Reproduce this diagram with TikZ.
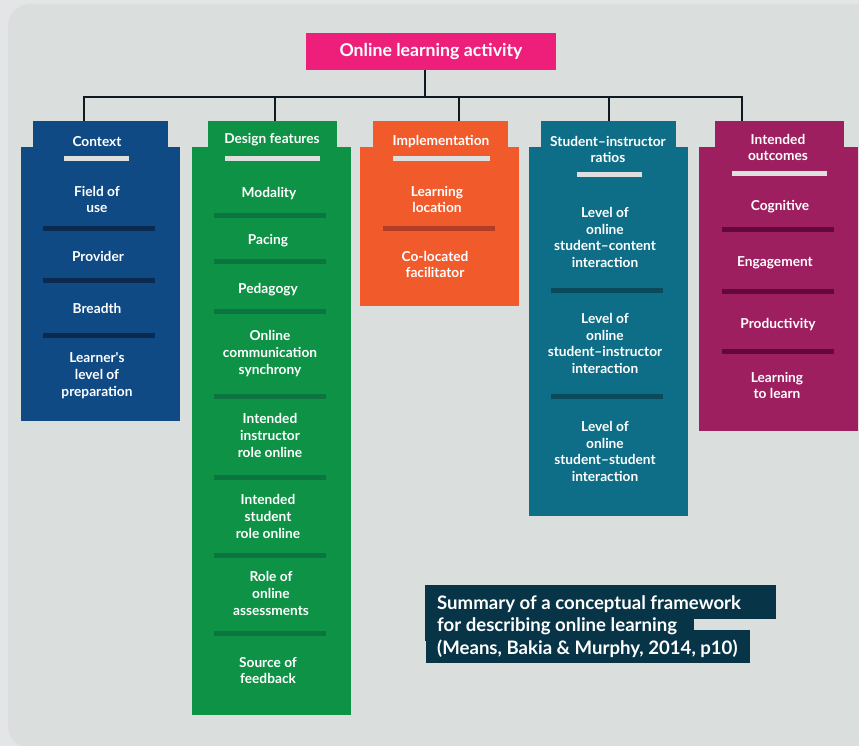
\documentclass[tikz,border=0pt]{standalone}
\usepackage{fontspec}
\setmainfont{Lato}
\definecolor{outerbg}{HTML}{E4E5E6}
\definecolor{innerbg}{HTML}{DADEDD}
\definecolor{cpink}{HTML}{EE1F7B}
\definecolor{cblue}{HTML}{0F4A84}
\definecolor{dblue}{HTML}{0C2A4F}
\definecolor{cgreen}{HTML}{0E9245}
\definecolor{dgreen}{HTML}{0D7440}
\definecolor{corange}{HTML}{F15A2B}
\definecolor{dorange}{HTML}{B23C25}
\definecolor{cteal}{HTML}{0E6E87}
\definecolor{dteal}{HTML}{0A4A5A}
\definecolor{cpurple}{HTML}{9E1F60}
\definecolor{dpurple}{HTML}{62083A}
\definecolor{ccap}{HTML}{073547}
\definecolor{cline}{HTML}{0E1A1F}
\definecolor{cbar}{HTML}{DDE0DF}
\begin{document}
\begin{tikzpicture}[x=1pt,y=-1pt,
  tab/.style={anchor=north west, inner sep=0pt, minimum height=26pt},
  colbody/.style={anchor=north west, inner sep=0pt},
  item/.style={text=white, font=\bfseries\fontsize{13.7}{16.8}\selectfont, align=center, inner sep=0pt, yshift=-1.5pt},
  conn/.style={draw=cline, line width=2.6pt},
  capline/.style={anchor=west, text=white, font=\bfseries\fontsize{18.6}{22}\selectfont, inner sep=0pt, yshift=-1pt}]
\useasboundingbox (0,0) rectangle (859,746);
\fill[outerbg] (0,0) rectangle (859,746);
\fill[innerbg, rounded corners=22pt] (8,4) rectangle (880,748);

% title
\node[fill=cpink, text=white, font=\bfseries\fontsize{17.7}{20}\selectfont, minimum width=250pt, minimum height=37pt, inner sep=0pt] (title) at (431,51.5) {\raisebox{-2pt}{Online learning activity}};

% ---- Context column
\node[colbody, fill=cblue, minimum width=159pt, minimum height=274pt] (ctxbody) at (21,147) {};
\node[tab, fill=cblue, minimum width=135pt] (ctxtab) at (33,121) {};
\node[item] (ctxh) at (97,140) {Context};
\fill[cbar] (64,156) rectangle (129,161);
\node[item] (c1) at (97,198) {Field of\\use};
\fill[dblue] (43,226) rectangle (155,231);
\node[item] (c2) at (98,255) {Provider};
\fill[dblue] (43,278) rectangle (155,283);
\node[item] (c3) at (97,307) {Breadth};
\fill[dblue] (43,333) rectangle (155,338);
\node[item] (c4) at (97,374) {Learner\textquotesingle s\\level of\\preparation};

% ---- Design features column
\node[colbody, fill=cgreen, minimum width=159pt, minimum height=568pt] (desbody) at (192,147) {};
\node[tab, fill=cgreen, minimum width=129pt] (destab) at (208,121) {};
\node[item] (desh) at (272,138) {Design features};
\fill[cbar] (225,156) rectangle (320,161);
\node[item] (d1) at (269,192) {Modality};
\fill[dgreen] (214,213) rectangle (326,218);
\node[item] (d2) at (268,239) {Pacing};
\fill[dgreen] (214,259) rectangle (326,264);
\node[item] (d3) at (268,288) {Pedagogy};
\fill[dgreen] (214,309) rectangle (326,314);
\node[item] (d4) at (270,352) {Online\\communication\\synchrony};
\fill[dgreen] (214,394) rectangle (326,399);
\node[item] (d5) at (270,434) {Intended\\instructor\\role online};
\fill[dgreen] (214,475) rectangle (326,480);
\node[item] (d6) at (268,515) {Intended\\student\\role online};
\fill[dgreen] (214,553) rectangle (326,558);
\node[item] (d7) at (271,592) {Role of\\online\\assessments};
\fill[dgreen] (214,631) rectangle (326,636);
\node[item] (d8) at (268,669) {Source of\\feedback};

% ---- Implementation column
\node[colbody, fill=corange, minimum width=159pt, minimum height=159pt] (impbody) at (360,147) {};
\node[tab, fill=corange, minimum width=135pt] (imptab) at (373,121) {};
\node[item] (imph) at (441,140) {Implementation};
\fill[cbar] (393,156) rectangle (490,161);
\node[item] (i1) at (437,198) {Learning\\location};
\fill[dorange] (383,226) rectangle (495,231);
\node[item] (i2) at (435,263) {Co-located\\facilitator};

% ---- Student-instructor ratios column
\node[colbody, fill=cteal, minimum width=159pt, minimum height=369pt] (ratbody) at (529,147) {};
\node[tab, fill=cteal, minimum width=135pt] (rattab) at (541,121) {};
\node[item] (rath) at (608,148) {Student–instructor\\ratios};
\fill[cbar] (577,172) rectangle (642,177);
\node[item] (r1) at (605,236) {Level of\\online\\student–content\\interaction};
\fill[dteal] (551,288) rectangle (663,293);
\node[item] (r2) at (605,342) {Level of\\online\\student–instructor\\interaction};
\fill[dteal] (551,394) rectangle (663,399);
\node[item] (r3) at (605,450) {Level of\\online\\student–student\\interaction};

% ---- Intended outcomes column
\node[colbody, fill=cpurple, minimum width=159pt, minimum height=284pt] (outbody) at (699,147) {};
\node[tab, fill=cpurple, minimum width=129pt] (outtab) at (715,121) {};
\node[item] (outh) at (778,146) {Intended\\outcomes};
\fill[cbar] (732,171) rectangle (827,176);
\node[item] (o1) at (780,205) {Cognitive};
\fill[dpurple] (722,227) rectangle (834,232);
\node[item] (o2) at (775,261) {Engagement};
\fill[dpurple] (722,289) rectangle (834,294);
\node[item] (o3) at (778,323) {Productivity};
\fill[dpurple] (722,349) rectangle (834,354);
\node[item] (o4) at (777,384) {Learning\\to learn};

% ---- connectors
\coordinate (tb) at ([xshift=-6pt]title.south);
\coordinate (bus) at (425,97);
\coordinate (b1) at (84,97);
\coordinate (b2) at (275,97);
\coordinate (b3) at (459,97);
\coordinate (b4) at (609,97);
\coordinate (b5) at (742,97);
\draw[conn] (tb) -- (bus);
\draw[conn, line cap=rect] (b1) -- (b5);
\draw[conn] (b1) -- (b1 |- ctxtab.north);
\draw[conn] (b2) -- (b2 |- destab.north);
\draw[conn] (b3) -- (b3 |- imptab.north);
\draw[conn] (b4) -- (b4 |- rattab.north);
\draw[conn] (b5) -- (b5 |- outtab.north);

% ---- caption
\fill[ccap] (425,585) rectangle (776,619);
\fill[ccap] (425,618) rectangle (694,641);
\fill[ccap] (426,630) rectangle (750,663);
\node[capline] (cap1) at (437,603) {Summary of a conceptual framework};
\node[capline] (cap2) at (437,625) {for describing online learning};
\node[capline] (cap3) at (437,648) {(Means, Bakia \& Murphy, 2014, p10)};
\end{tikzpicture}
\end{document}
